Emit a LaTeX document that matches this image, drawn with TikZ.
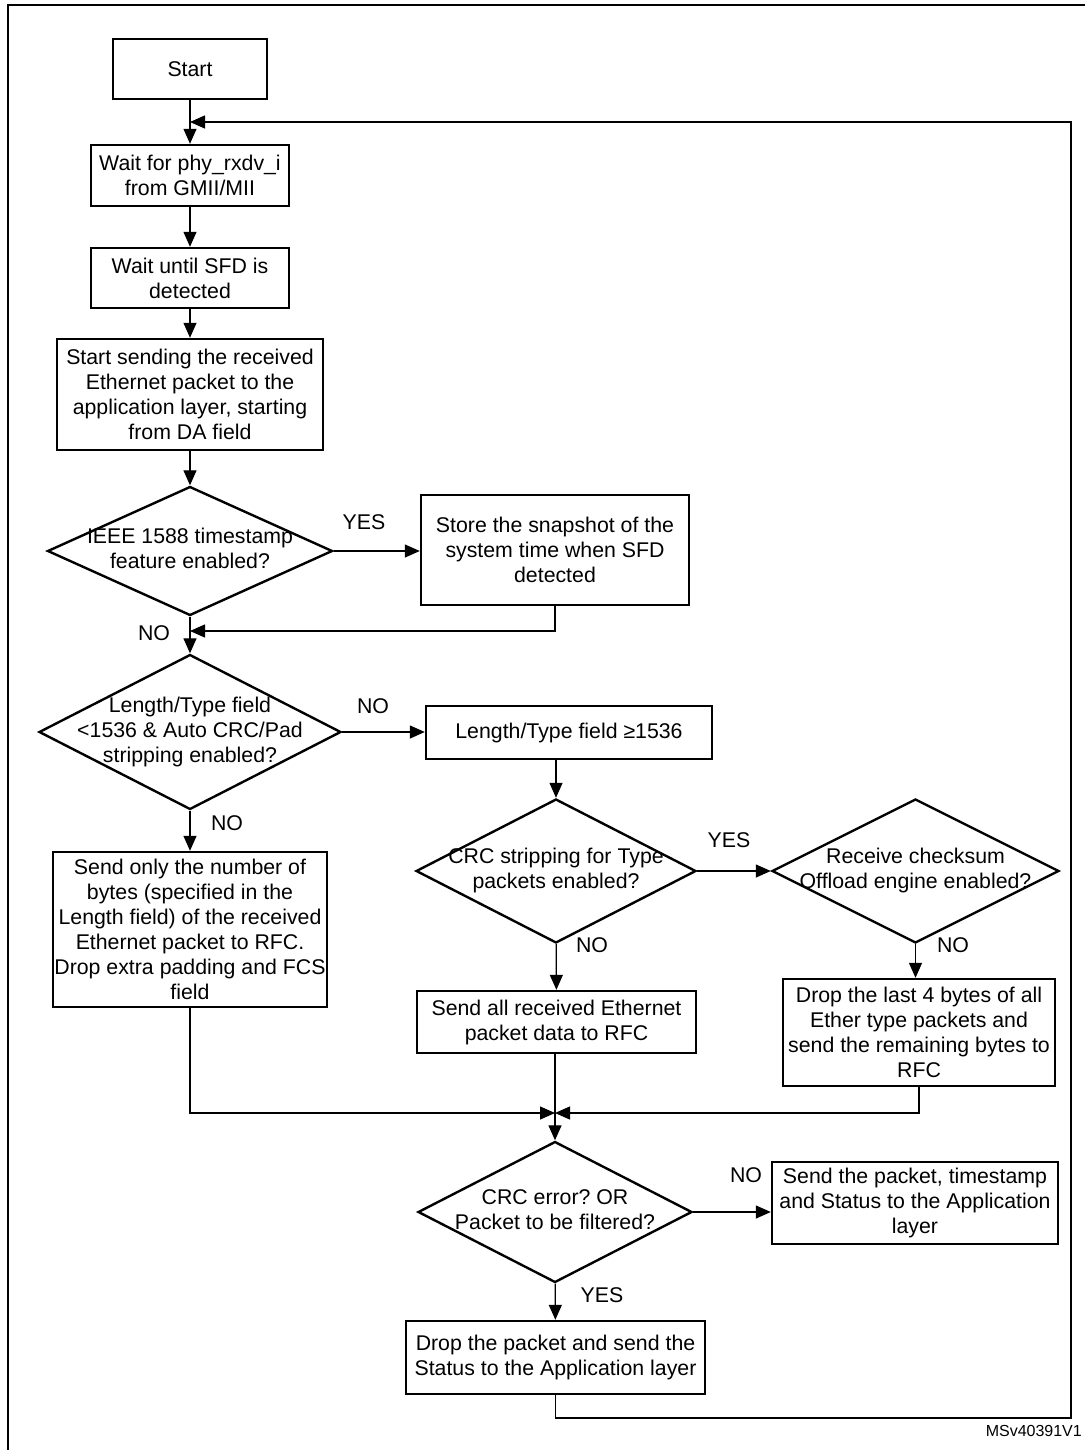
\documentclass[tikz,border=0pt]{standalone}
\usepackage{fontspec}
\setmainfont{Liberation Sans}
\usetikzlibrary{shapes.geometric,arrows.meta}
\frenchspacing

\newcommand{\dtext}[1]{\makebox[0pt]{\smash{\raisebox{-0.25em}{\begin{tabular}{@{}c@{}}#1\end{tabular}}}}}

\tikzset{
    box/.style={draw, line width=2.4pt, rectangle, align=center, inner sep=0pt},
    decision/.style={draw, line width=2.4pt, diamond, inner sep=0pt},
    flow/.style={line width=1.3pt, -{Triangle[length=15pt,width=13pt]}},
    tag/.style={inner sep=0pt}
}

\begin{document}
\begin{tikzpicture}[x=1pt, y=-1pt, font=\fontsize{21.3}{25}\selectfont]
                            \useasboundingbox (0,0) rectangle (1085,1450);
                            \draw [line width=2.5pt] (8,1450) -- (8,5) -- (1085,5);

                            \node [box, minimum width=154pt, minimum height=60pt] (start) at (190,69) {Start};
                            \node [box, minimum width=198pt, minimum height=61pt] (waitrx) at (190,175.5) {Wait for phy\_rxdv\_i\\from GMII/MII};
                            \node [box, minimum width=198pt, minimum height=60pt] (waitsfd) at (190,278) {Wait until SFD is\\detected};
                            \node [box, minimum width=266pt, minimum height=111pt] (sendda) at (190,394.5) {Start sending the received\\Ethernet packet to the\\application layer, starting\\from DA field};
                            \node [decision, minimum width=285pt, minimum height=129pt] (dieee) at (190,551) {\dtext{IEEE 1588 timestamp\\feature enabled?}};
                            \node [box, minimum width=268pt, minimum height=110pt] (snap) at (555,550) {Store the snapshot of the\\system time when SFD\\detected};
                            \node [decision, minimum width=302pt, minimum height=155pt] (dlen) at (190,732) {\dtext{Length/Type field\\<1536 \& Auto CRC/Pad\\stripping enabled?}};
                            \node [box, minimum width=286pt, minimum height=53pt] (ltype) at (569,732.5) {Length/Type field ≥1536};
                            \node [box, minimum width=274pt, minimum height=155pt] (sendonly) at (190,929.5) {Send only the number of\\bytes (specified in the\\Length field) of the received\\Ethernet packet to RFC.\\Drop extra padding and FCS\\field};
                            \node [decision, minimum width=280pt, minimum height=144pt] (dcrc) at (556,871) {\dtext{CRC stripping for Type\\packets enabled?}};
                            \node [decision, minimum width=287pt, minimum height=144pt] (dcsum) at (915.5,871) {\dtext{Receive checksum\\Offload engine enabled?}};
                            \node [box, minimum width=279pt, minimum height=62pt] (sendall) at (556.5,1022) {Send all received Ethernet\\packet data to RFC};
                            \node [box, minimum width=272pt, minimum height=107pt] (droplast) at (919,1032.5) {Drop the last 4 bytes of all\\Ether type packets and\\send the remaining bytes to\\RFC};
                            \node [decision, minimum width=274pt, minimum height=141pt] (crcerr) at (555,1212) {\dtext{CRC error? OR\\Packet to be filtered?}};
                            \node [box, minimum width=286pt, minimum height=82pt] (sendpkt) at (915,1203) {Send the packet, timestamp\\and Status to the Application\\layer};
                            \node [box, minimum width=299pt, minimum height=73pt] (droppkt) at (555.5,1357.5) {Drop the packet and send the\\Status to the Application layer};

                            \node [tag] (yes1) at (364,522) {YES};
                            \node [tag] (no1) at (154,633) {NO};
                            \node [tag] (no2) at (373,706) {NO};
                            \node [tag] (no3) at (227,823) {NO};
                            \node [tag] (yes2) at (729,840) {YES};
                            \node [tag] (no4) at (592,945) {NO};
                            \node [tag] (no5) at (953,945) {NO};
                            \node [tag] (no6) at (746,1175) {NO};
                            \node [tag] (yes3) at (602,1295) {YES};
                            \node [tag, anchor=east, font=\fontsize{16}{19}\selectfont] (code) at (1082,1431) {MSv40391V1};

                            \coordinate (join0) at (190,122);
                            \coordinate (join1) at (190,631);
                            \coordinate (join2) at (555,1113);
                            \coordinate (loopc) at (1071,1418);

                            \draw [flow] (start) -- (waitrx);
                            \draw [flow] (waitrx) -- (waitsfd);
                            \draw [flow] (waitsfd) -- (sendda);
                            \draw [flow] (sendda) -- (dieee);
                            \draw [flow] (dieee.east) -- (dieee.east -| snap.west);
                            \draw [flow] (snap.south) |- (join1);
                            \draw [flow] (dieee) -- (dlen);
                            \draw [flow] (dlen.east) -- (dlen.east -| ltype.west);
                            \draw [flow] (dcrc.north |- ltype.south) -- (dcrc.north);
                            \draw [flow] (dlen) -- (sendonly);
                            \draw [flow] (dcrc) -- (dcsum);
                            \draw [flow] (dcrc) -- (sendall);
                            \draw [flow] (dcsum.south) -- (dcsum.south |- droplast.north);
                            \draw [flow] (sendonly.south) |- (join2);
                            \draw [flow] (droplast.south) |- (join2);
                            \draw [flow] (sendall.south -| crcerr.north) -- (crcerr.north);
                            \draw [flow] (crcerr.east) -- (crcerr.east -| sendpkt.west);
                            \draw [flow] (crcerr) -- (droppkt);
                            \draw [flow] (droppkt.south) |- (loopc) |- (join0);
                        \end{tikzpicture}
\end{document}
